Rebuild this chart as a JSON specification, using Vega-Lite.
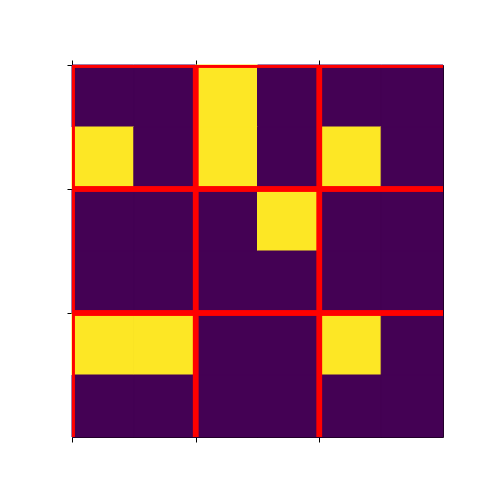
{
  "$schema": "https://vega.github.io/schema/vega-lite/v6.json",
  "autosize": "none",
  "width": 371,
  "height": 372,
  "padding": {"left": 72, "top": 65, "right": 37, "bottom": 43},
  "background": "white",
  "datasets": {
    "cells": [
      {"row": 0, "col": 0, "v": 0}, {"row": 0, "col": 1, "v": 0}, {"row": 0, "col": 2, "v": 1}, {"row": 0, "col": 3, "v": 0}, {"row": 0, "col": 4, "v": 0}, {"row": 0, "col": 5, "v": 0},
      {"row": 1, "col": 0, "v": 1}, {"row": 1, "col": 1, "v": 0}, {"row": 1, "col": 2, "v": 1}, {"row": 1, "col": 3, "v": 0}, {"row": 1, "col": 4, "v": 1}, {"row": 1, "col": 5, "v": 0},
      {"row": 2, "col": 0, "v": 0}, {"row": 2, "col": 1, "v": 0}, {"row": 2, "col": 2, "v": 0}, {"row": 2, "col": 3, "v": 1}, {"row": 2, "col": 4, "v": 0}, {"row": 2, "col": 5, "v": 0},
      {"row": 3, "col": 0, "v": 0}, {"row": 3, "col": 1, "v": 0}, {"row": 3, "col": 2, "v": 0}, {"row": 3, "col": 3, "v": 0}, {"row": 3, "col": 4, "v": 0}, {"row": 3, "col": 5, "v": 0},
      {"row": 4, "col": 0, "v": 1}, {"row": 4, "col": 1, "v": 1}, {"row": 4, "col": 2, "v": 0}, {"row": 4, "col": 3, "v": 0}, {"row": 4, "col": 4, "v": 1}, {"row": 4, "col": 5, "v": 0},
      {"row": 5, "col": 0, "v": 0}, {"row": 5, "col": 1, "v": 0}, {"row": 5, "col": 2, "v": 0}, {"row": 5, "col": 3, "v": 0}, {"row": 5, "col": 4, "v": 0}, {"row": 5, "col": 5, "v": 0}
    ],
    "lines": [{"p": -0.5}, {"p": 1.5}, {"p": 3.5}]
  },
  "layer": [
    {
      "data": {"name": "cells"},
      "mark": {"type": "rect", "strokeWidth": 1},
      "encoding": {
        "x": {"field": "col", "type": "ordinal", "axis": null, "scale": {"paddingInner": 0, "paddingOuter": 0}},
        "y": {"field": "row", "type": "ordinal", "axis": null, "scale": {"paddingInner": 0, "paddingOuter": 0}},
        "color": {"field": "v", "type": "quantitative", "scale": {"domain": [0, 1], "range": ["#440154", "#fde725"]}, "legend": null},
        "stroke": {"field": "v", "type": "quantitative", "scale": {"domain": [0, 1], "range": ["#440154", "#fde725"]}, "legend": null}
      }
    },
    {
      "data": {"name": "lines"},
      "mark": {"type": "rule", "color": "red", "strokeWidth": 5.5, "clip": true},
      "encoding": {
        "x": {"field": "p", "type": "quantitative", "scale": {"domain": [-0.5, 5.5], "nice": false, "zero": false},
          "axis": {"orient": "bottom", "values": [-0.5, 1.5, 3.5], "labels": false, "title": null, "grid": false}}
      }
    },
    {
      "data": {"name": "lines"},
      "mark": {"type": "rule", "color": "red", "strokeWidth": 5.5, "clip": true},
      "encoding": {
        "x": {"field": "p", "type": "quantitative", "scale": {"domain": [-0.5, 5.5], "nice": false, "zero": false},
          "axis": {"orient": "top", "values": [-0.5, 1.5, 3.5], "labels": false, "title": null, "grid": false}}
      }
    },
    {
      "data": {"name": "lines"},
      "mark": {"type": "rule", "color": "red", "strokeWidth": 5.5, "clip": true},
      "encoding": {
        "y": {"field": "p", "type": "quantitative", "scale": {"domain": [-0.5, 5.5], "nice": false, "zero": false, "reverse": true},
          "axis": {"orient": "left", "values": [-0.5, 1.5, 3.5], "labels": false, "title": null, "grid": false}}
      }
    },
    {
      "data": {"name": "lines"},
      "mark": {"type": "rule", "color": "red", "strokeWidth": 5.5, "clip": true},
      "encoding": {
        "y": {"field": "p", "type": "quantitative", "scale": {"domain": [-0.5, 5.5], "nice": false, "zero": false, "reverse": true},
          "axis": {"orient": "right", "values": [], "ticks": false, "labels": false, "title": null, "grid": false}}
      }
    }
  ],
  "resolve": {
    "scale": {"x": "independent", "y": "independent"},
    "axis": {"x": "independent", "y": "independent"}
  },
  "config": {
    "view": {"stroke": null, "fill": "#440154"},
    "axis": {"domainColor": "black", "domainWidth": 1, "tickColor": "black", "tickWidth": 1, "tickSize": 5}
  }
}
